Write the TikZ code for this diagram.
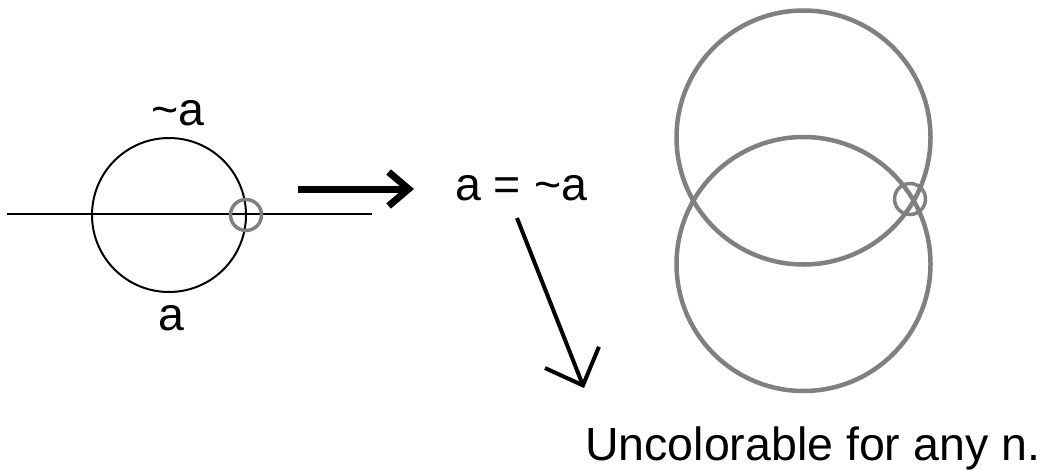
\documentclass[tikz,border=0pt]{standalone}
\usepackage{fontspec}
\setmainfont{Liberation Sans}
\usetikzlibrary{arrows.meta}
\begin{document}
\begin{tikzpicture}[x=1pt,y=-1pt,
  lbl/.style={font=\fontsize{46.5}{50}\selectfont, inner sep=0pt, anchor=base},
  ring/.style={draw=black!50, line width=3.5pt, circle, inner sep=0pt, minimum size=31pt},
  bigring/.style={draw=black!50, line width=4.5pt, circle, inner sep=0pt, minimum size=254pt},
  bigarrow/.style={line width=7pt, -{Straight Barb[length=20pt,width=34pt]}},
  slantarrow/.style={line width=4pt, -{Straight Barb[length=30pt,width=58pt]}}]
\useasboundingbox (0,0) rectangle (1060,471);
% left figure
\node[draw=black, line width=2pt, circle, inner sep=0pt, minimum size=154pt] (lc) at (169,215) {};
\coordinate (hl) at (7,214);
\coordinate (hr) at (372,214);
\draw[line width=1.5pt] (hl) -- (hr);
\node[ring] (lr) at (246,215) {};
\node[lbl] (na) at (178,125) {\textasciitilde a};
\node[lbl] (a) at (171,330) {a};
% arrow
\coordinate (ta) at (298,189);
\coordinate (tb) at (414,189);
\draw[bigarrow] (ta) -- (tb);
\node[lbl, anchor=base west] (eq) at (455,200) {a = \textasciitilde a};
% slanted arrow
\coordinate (sa) at (517,218);
\coordinate (sb) at (584,388);
\draw[slantarrow] (sa) -- (sb);
% right figure
\node[bigring] (top) at (803.5,137.5) {};
\node[bigring] (bot) at (803.5,264) {};
\node[ring] (rr) at (910,199) {};
\node[lbl, anchor=base west] (unc) at (585,460) {Uncolorable for any n.};
\end{tikzpicture}
\end{document}
